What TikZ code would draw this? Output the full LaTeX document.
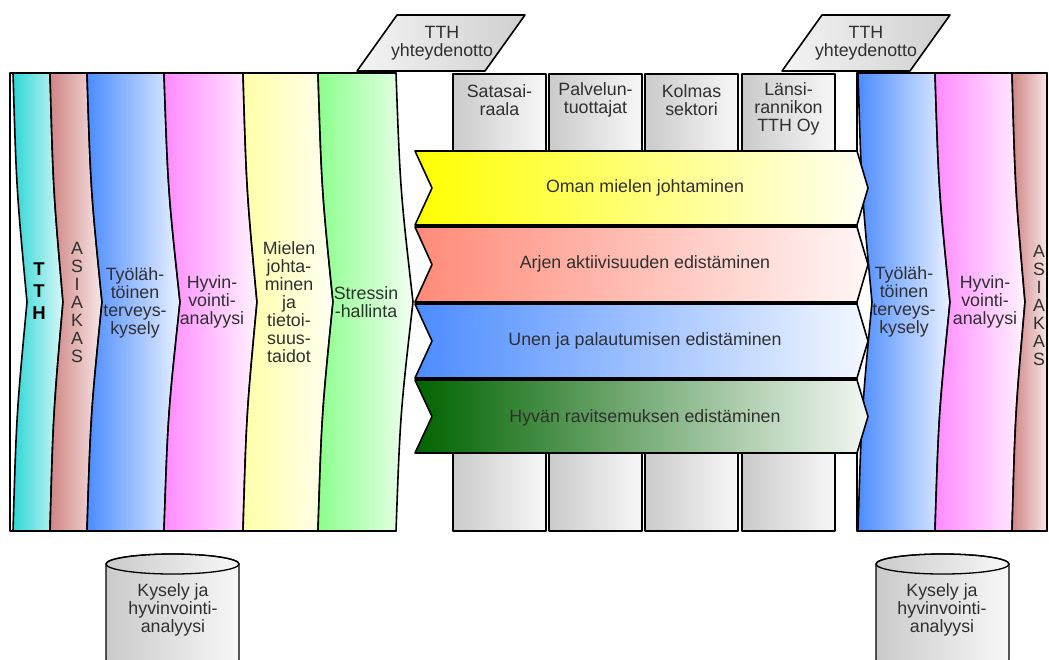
\documentclass[tikz,border=0pt]{standalone}
\usepackage{fontspec}
\setmainfont{Liberation Sans}
\definecolor{txt}{HTML}{303030}
\definecolor{grayL}{HTML}{CACACA}
\definecolor{grayR}{HTML}{F7F7F7}
\definecolor{cyanL}{HTML}{2ED6D6}\definecolor{cyanR}{HTML}{D8F7F7}
\definecolor{roseL}{HTML}{D08484}\definecolor{roseR}{HTML}{F6E6E6}
\definecolor{blueL}{HTML}{4C8CFF}\definecolor{blueR}{HTML}{E8F0FF}
\definecolor{pinkL}{HTML}{FF8AFF}\definecolor{pinkR}{HTML}{FFF2FF}
\definecolor{yelL}{HTML}{FFFFA8}\definecolor{yelR}{HTML}{FFFFF2}
\definecolor{grnL}{HTML}{8CFF8C}\definecolor{grnR}{HTML}{F2FFF2}
\definecolor{bYL}{HTML}{FFFF00}\definecolor{bYR}{HTML}{FFFFF4}
\definecolor{bRL}{HTML}{FF8A78}\definecolor{bRR}{HTML}{FFF6F6}
\definecolor{bBL}{HTML}{4C8CFF}\definecolor{bBR}{HTML}{F4F8FF}
\definecolor{bGL}{HTML}{006400}\definecolor{bGR}{HTML}{F2F6F2}
\definecolor{parL}{HTML}{F4F4F4}\definecolor{parR}{HTML}{CFCFCF}
\tikzset{
  edge/.style={draw=black, line width=1.6pt, line join=round},
  lbl/.style={text=txt, font=\fontsize{17.8}{18}\selectfont, align=center, inner sep=0pt},
}
% chevron: #1 left top x, #2 left mid x, #3 right top x, #4 right mid x, #5 left colour, #6 right colour
\newcommand{\chevshape}[6]{%
  \draw[edge, left color=#5, right color=#6]
    (#1,73) -- (#3,73)
    .. controls ({#3+0.25*(#4-#3)},190) .. (#4,302)
    .. controls ({#3+0.25*(#4-#3)},414) .. (#3,531)
    -- (#1,531)
    .. controls ({#1+0.25*(#2-#1)},414) .. (#2,302)
    .. controls ({#1+0.25*(#2-#1)},190) .. (#1,73) -- cycle;}
% arrow band: #1 top y, #2 bottom y, #3 left colour, #4 right colour
\newcommand{\bandshape}[4]{%
  \draw[edge, left color=#3, right color=#4]
    (415,#1) -- (857,#1) -- (868,{(#1+#2)/2}) -- (857,#2) -- (415,#2)
    -- (432,{(#1+#2)/2}) -- cycle;}
% cylinder: #1 left x, #2 right x
\newcommand{\cylshape}[2]{%
  \draw[edge, line width=1.3pt, left color=grayL, right color=grayR]
    (#1,564) -- (#1,660) arc[start angle=180, end angle=360, x radius={(#2-#1)/2*1pt}, y radius=10pt]
    -- (#2,564) arc[start angle=0, end angle=180, x radius={(#2-#1)/2*1pt}, y radius=10pt] -- cycle;
  \draw[edge, line width=1.3pt] ({(#1+#2)/2},564) ellipse[x radius={(#2-#1)/2*1pt}, y radius=10pt];}
\begin{document}
\begin{tikzpicture}[x=1pt, y=-1pt]
\useasboundingbox (0,0) rectangle (1049,659);

% ---------- central columns ----------
\foreach \a/\b in {453/546, 549/642, 645/738, 742/835}{
  \draw[edge, left color=grayL, right color=grayR] (\a,74) rectangle (\b,531);
}
\node[lbl] (c1) at (499.5,100) {Satasai-\\raala};
\node[lbl] (c2) at (595.5,100) {Palvelun-\\tuottajat};
\node[lbl] (c3) at (691.5,100) {Kolmas\\sektori};
\node[lbl] (c4) at (788.5,109) {Länsi-\\rannikon\\TTH Oy};

% ---------- left group ----------
\draw[edge, fill=white] (10,73) rectangle (396,531);
\chevshape{13}{27}{50}{63}{cyanL}{cyanR}
\chevshape{50}{63}{87}{102}{roseL}{roseR}
\chevshape{87}{102}{164}{180}{blueL}{blueR}
\chevshape{164}{180}{243}{257}{pinkL}{pinkR}
\chevshape{243}{257}{318}{333}{yelL}{yelR}
\chevshape{318}{333}{396}{413}{grnL}{grnR}
\node[lbl, text=black, font=\bfseries\fontsize{18.5}{22}\selectfont] (l1) at (39,291) {T\\T\\H};
\node[lbl] (l2) at (77,302) {A\\S\\I\\A\\K\\A\\S};
\node[lbl] (l3) at (135,303) {Työläh-\\töinen\\terveys-\\kysely};
\node[lbl] (l4) at (212,302) {Hyvin-\\vointi-\\analyysi};
\node[lbl] (l5) at (289,302) {Mielen\\johta-\\minen\\ja\\tietoi-\\suus-\\taidot};
\node[lbl] (l6) at (366,302) {Stressin\\-hallinta};

% ---------- right group ----------
\draw[edge, fill=white] (857,73) rectangle (1047,531);
\chevshape{858}{872}{935}{950}{blueL}{blueR}
\chevshape{935}{950}{1012}{1025}{pinkL}{pinkR}
\chevshape{1012}{1025}{1047}{1047}{roseL}{roseR}
\node[lbl] (r1) at (904,302) {Työläh-\\töinen\\terveys-\\kysely};
\node[lbl] (r2) at (985,302) {Hyvin-\\vointi-\\analyysi};
\node[lbl] (r3) at (1039,305) {A\\S\\I\\A\\K\\A\\S};

% ---------- central bands ----------
\bandshape{151}{225}{bYL}{bYR}
\bandshape{227}{302}{bRL}{bRR}
\bandshape{304}{378}{bBL}{bBR}
\bandshape{380}{453}{bGL}{bGR}
\node[lbl] (b1) at (645,188) {Oman mielen johtaminen};
\node[lbl] (b2) at (645,264) {Arjen aktiivisuuden edistäminen};
\node[lbl] (b3) at (645,341) {Unen ja palautumisen edistäminen};
\node[lbl] (b4) at (645,418) {Hyvän ravitsemuksen edistäminen};

% ---------- contact parallelograms ----------
\draw[edge, left color=parL, right color=parR] (357,71) -- (485,71) -- (525,15) -- (397,15) -- cycle;
\node[lbl] (p1) at (442,43) {TTH\\yhteydenotto};
\draw[edge, left color=parL, right color=parR] (782,71) -- (910,71) -- (950,15) -- (822,15) -- cycle;
\node[lbl] (p2) at (866,43) {TTH\\yhteydenotto};

% ---------- cylinders ----------
\cylshape{106}{239}
\node[lbl] (d1) at (173,610) {Kysely ja\\hyvinvointi-\\analyysi};
\cylshape{876}{1009}
\node[lbl] (d2) at (942,610) {Kysely ja\\hyvinvointi-\\analyysi};
\end{tikzpicture}
\end{document}
